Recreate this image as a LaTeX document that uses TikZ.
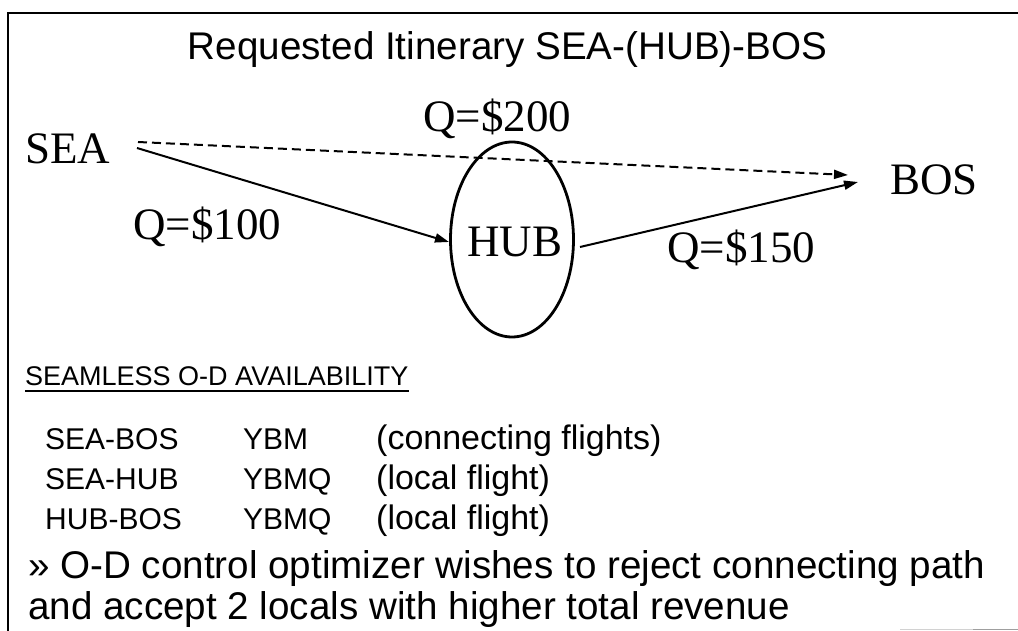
\documentclass[tikz,border=0pt]{standalone}
\usepackage{fontspec}
\setmainfont{Liberation Serif}
\setsansfont{Liberation Sans}
\usetikzlibrary{shapes.geometric,arrows.meta}
\begin{document}
\begin{tikzpicture}[x=1pt,y=-1pt,
  serif/.style={font=\fontsize{45}{50}\selectfont, inner sep=0pt, anchor=base west},
  big/.style={font=\sffamily\fontsize{38.6}{46}\selectfont, inner sep=0pt, anchor=base west},
  headst/.style={font=\sffamily\fontsize{27}{30}\selectfont, inner sep=0pt, anchor=base west},
  row/.style={font=\sffamily\fontsize{30}{33}\selectfont, inner sep=0pt, anchor=base west},
  paren/.style={font=\sffamily\fontsize{34}{38}\selectfont, inner sep=0pt, anchor=base west},
  conn/.style={line width=2pt, -{Triangle[length=14pt,width=9pt]}},
  frame/.style={line width=2.5pt}]
\useasboundingbox (0,0) rectangle (1018,631);
\draw[frame] (8,631) -- (8,13) -- (1018,13);
\draw[gray!35, line width=1pt] (900,629) -- (973,629);
\draw[gray!75, line width=1pt] (973,629) -- (1018,629);

\node[big, anchor=base] (title) at (507.5,60) {Requested Itinerary SEA-(HUB)-BOS};

\node[serif] (sea) at (25,164) {SEA};
\node[serif] (bos) at (890,195) {BOS};
\node[draw, ellipse, line width=2.8pt, minimum width=123pt, minimum height=195pt, inner sep=0pt] (hub) at (512,239.5) {};
\node[serif, anchor=base] (hubt) at (515,257) {HUB};
\node[serif] (q200) at (423,132) {Q=\$200};
\node[serif] (q100) at (133,240) {Q=\$100};
\node[serif] (q150) at (667,263) {Q=\$150};

\coordinate (seaD) at (138,142);
\coordinate (seaS) at (137,148);
\coordinate (bosD) at (848,175);
\coordinate (bosS) at (858,182);
\coordinate (hubW) at (449,242);
\coordinate (hubE) at (580,247);

\draw[conn, dash pattern=on 9pt off 5pt] (seaD) -- (bosD);
\draw[conn] (seaS) -- (hubW);
\draw[conn] (hubE) -- (bosS);

\node[headst] (head) at (25,385) {SEAMLESS O-D AVAILABILITY};
\draw[line width=1.8pt] ([yshift=-6pt]head.base west) -- ([yshift=-6pt]head.base east);

\node[row] (r1a) at (45,449) {SEA-BOS};
\node[row] (r1b) at (243,449) {YBM};
\node[paren] (r1c) at (376,449) {(connecting flights)};
\node[row] (r2a) at (45,489) {SEA-HUB};
\node[row] (r2b) at (243,489) {YBMQ};
\node[paren] (r2c) at (376,489) {(local flight)};
\node[row] (r3a) at (45,529) {HUB-BOS};
\node[row] (r3b) at (243,529) {YBMQ};
\node[paren] (r3c) at (376,529) {(local flight)};

\node[big] (l1) at (28,578) {» O-D control optimizer wishes to reject connecting path};
\node[big] (l2) at (28,619) {and accept 2 locals with higher total revenue};
\end{tikzpicture}
\end{document}
